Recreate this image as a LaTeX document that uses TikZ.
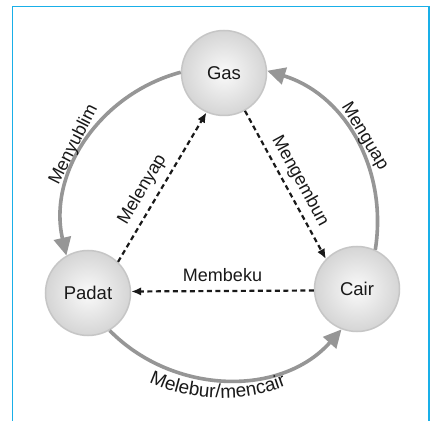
\documentclass[tikz,border=0pt]{standalone}
\usepackage{fontspec}
\setmainfont{Liberation Sans}
\usetikzlibrary{arrows.meta,decorations.text}
\definecolor{framecol}{RGB}{25,175,232}
\definecolor{arcgray}{RGB}{150,150,150}
\definecolor{ink}{RGB}{25,25,25}
\begin{document}
\begin{tikzpicture}[x=1pt,y=1pt,
  state/.style={circle, minimum size=85pt, inner sep=0pt, draw=gray!45, line width=1.5pt,
    shading=radial, inner color=gray!4, outer color=gray!33,
    font=\fontsize{18.5}{20}\selectfont, text=ink},
  phase/.style={draw=arcgray, line width=3.6pt, -{Triangle[length=18pt,width=17pt]}, looseness=1},
  trans/.style={draw=ink, line width=2.2pt, dash pattern=on 5pt off 3.5pt, -{Latex[length=10pt,width=8.5pt]}},
  lbl/.style={font=\fontsize{18}{20}\selectfont, text=ink}]
\clip (0,0) rectangle (430,420);
\fill[white] (0,0) rectangle (430,420);
\draw[framecol, line width=1.4pt] (12.5,413.5) rectangle (429,-10);
\coordinate (o) at (222,198);
\node[state] (gas) at (224,347) {Gas};
\node[state] (padat) at (88,127) {Padat};
\node[state] (cair) at (357,131) {Cair};
% solid gray transitions
\draw[phase] (gas.179) to[out=195,in=103] (padat.120);
\draw[phase] (cair.65) to[out=81,in=343] (gas.3);
\draw[phase] (padat.-60) to[out=-45.5,in=228.5] (cair.249);
% dashed transitions
\draw[trans] (padat.46) -- node[lbl, sloped, above=3pt, pos=0.43] {Melenyap} (gas.246);
\draw[trans] (gas.299) -- node[lbl, sloped, above=2pt, pos=0.52] {Mengembun} (cair.136);
\draw[trans] (cair.182) -- node[lbl, above=5pt] {Membeku} (padat.2);
% labels of the gray arcs
\node[lbl, rotate=63] (lsub) at ([shift={(152.5:167)}]o) {Menyublim};
\node[lbl, rotate=-59] (lvap) at ([shift={(31:166)}]o) {Menguap};
\path[decorate, decoration={text along path, text align=center,
  text={|\fontsize{19}{21}\selectfont\color{ink}|Melebur/mencair}}]
  ([shift={(232:176)}]o) arc[start angle=232, end angle=305, radius=176];
\end{tikzpicture}
\end{document}
